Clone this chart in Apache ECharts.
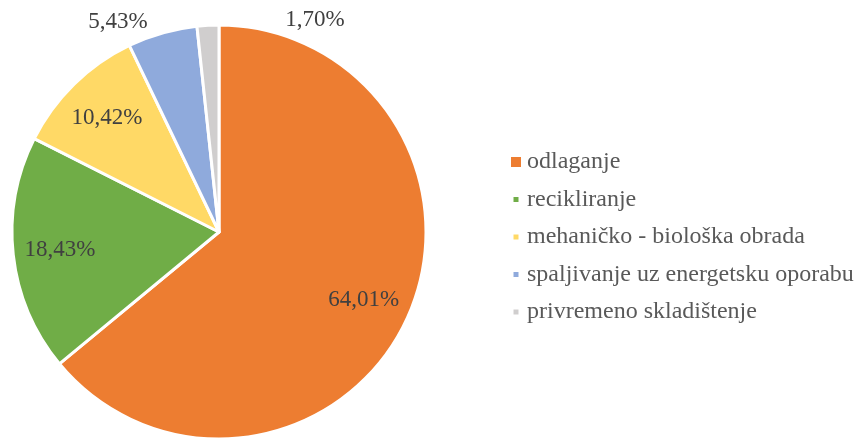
<!DOCTYPE html>
<html>
<head>
<meta charset="utf-8">
<script src="https://cdn.jsdelivr.net/npm/echarts@6/dist/echarts.min.js"></script>
<style>
  html, body { margin: 0; padding: 0; background: #fff; }
  #main { width: 856px; height: 438px; }
</style>
</head>
<body>
<div id="main"></div>
<script>
  // podaci
  var categories = ['odlaganje', 'recikliranje', 'mehaničko - biološka obrada', 'spaljivanje uz energetsku oporabu', 'privremeno skladištenje'];
  var values = [64.01, 18.43, 10.42, 5.43, 1.70];
  var colors = ['#ED7D31', '#70AD47', '#FFD966', '#8FAADC', '#D0CECE'];
  // labele malih isjecaka stoje izvan kruga
  var outsideLabelPos = { 3: [118, 22], 4: [315, 20] };

  var fontFam = 'Liberation Serif';

  function fmt(v) {
    return v.toFixed(2).replace('.', ',') + '%';
  }

  var pieData = categories.map(function (name, i) {
    return { name: name, value: values[i], itemStyle: { color: colors[i] } };
  });

  // ikone u legendi: prva veca, ostale manje
  var bigIcon = 'rect';
  var smallIcon = 'path://M0,0M12,12M2.5,2.5h7v7h-7z';

  var chart = echarts.init(document.getElementById('main'));

  var option = {
    animation: false,
    legend: {
      orient: 'vertical',
      left: 504,
      top: 145,
      itemWidth: 12,
      itemHeight: 12,
      itemGap: 13.5,
      textStyle: { fontFamily: fontFam, fontSize: 24, color: '#595959' },
      data: categories.map(function (c, i) {
        return { name: c, icon: i === 0 ? bigIcon : smallIcon };
      })
    },
    series: [
      {
        // osnovni krug
        type: 'pie',
        center: [219, 232],
        radius: [0, 207],
        startAngle: 90,
        clockwise: true,
        itemStyle: { borderColor: '#fff', borderWidth: 3 },
        label: {
          show: true,
          position: 'outside',
          fontFamily: fontFam,
          fontSize: 23,
          color: '#404040',
          formatter: function (p) {
            return outsideLabelPos[p.dataIndex] ? fmt(p.value) : '';
          }
        },
        labelLine: { show: false },
        labelLayout: function (p) {
          var pos = outsideLabelPos[p.dataIndex];
          if (!pos) return {};
          return { x: pos[0], y: pos[1], align: 'center', verticalAlign: 'middle' };
        },
        emphasis: { disabled: true },
        data: pieData
      },
      {
        // prozirni sloj samo za unutarnje labele (~0.76 R)
        type: 'pie',
        center: [219, 232],
        radius: [107, 207],
        startAngle: 90,
        clockwise: true,
        silent: true,
        itemStyle: { color: 'rgba(0,0,0,0)' },
        label: {
          show: true,
          position: 'inside',
          fontFamily: fontFam,
          fontSize: 23,
          color: '#404040',
          formatter: function (p) {
            return outsideLabelPos[p.dataIndex] ? '' : fmt(p.value);
          }
        },
        labelLine: { show: false },
        emphasis: { disabled: true },
        data: categories.map(function (name, i) {
          return { name: name, value: values[i] };
        })
      }
    ]
  };

  chart.setOption(option);
</script>
</body>
</html>
